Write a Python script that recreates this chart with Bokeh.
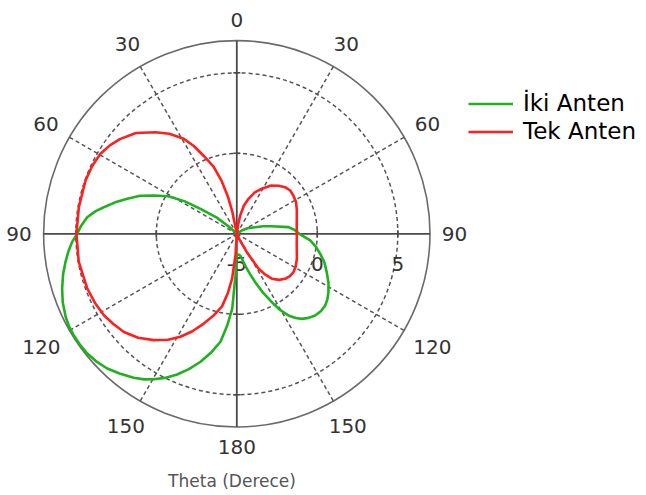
import numpy as np
from bokeh.plotting import figure
from bokeh.models import Range1d, Label, Legend, LegendItem
from bokeh.core.properties import value
from bokeh.embed import file_html
from bokeh.resources import INLINE

# ---------------- data ----------------
r_min, r_max = -5, 7
radial_ticks = [-5, 0, 5]
radial_labels = ["-5", "0", "5"]
angle_ticks = [0, 30, 60, 90, 120, 150, 180, 210, 240, 270, 300, 330]
angle_labels = ["0", "30", "60", "90", "120", "150", "180", "150", "120", "90", "60", "30"]

# Iki Anten (green): theta in degrees (clockwise from top, left side negative), gain in dB
iki_theta = [-180, -178.2, -176.5, -174, -171.4, -168, -164.2, -160.5, -157, -153.5,
             -150.3, -147.5, -144.4, -140, -136.1, -132.5, -128.7, -125, -121.9, -119,
             -116, -111.5, -107.4, -103, -99.3, -96, -92.8, -90, -87, -83.7,
             -81, -78.7, -75.5, -72.3, -68.5, -65.2, -61.2, -58, -55.5, -51,
             -47, -45, 0, 50, 56.6, 63, 70.3, 74, 77.7, 82.7,
             86, 90, 95.2, 99, 103.5, 108, 113.1, 118, 122.5, 126,
             129, 132.5, 136.2, 139.5, 142.6, 145, 147.7, 150.5, 152.9, 156,
             159.2, 162, 165.2, 168, 171, 175, 180]
iki_db = [-3.7, -2.43, -0.35, 0.75, 1.78, 2.5, 3.26, 3.92, 4.49, 5.0,
          5.40, 5.72, 6.00, 6.33, 6.61, 6.78, 6.90, 6.93, 6.93, 6.9,
          6.82, 6.62, 6.37, 6.07, 5.78, 5.52, 5.24, 4.91, 4.68, 4.35,
          3.9, 3.42, 2.8, 2.14, 1.45, 0.68, -0.15, -1.2, -2.3, -3.4,
          -4.4, -5, -5, -5, -4.6, -4.25, -3.79, -3.3, -2.78, -1.76,
          -1.42, -1.12, -0.42, -0.05, 0.33, 0.72, 1.07, 1.45, 1.75, 1.95,
          2.07, 2.1, 2.03, 1.87, 1.65, 1.38, 1.0, 0.42, -0.23, -1.0,
          -1.78, -2.4, -2.96, -3.35, -3.63, -3.7, -3.7]

# Tek Anten (red)
tek_theta = [-180, -176.5, -174, -171.5, -168.5, -164, -159.8, -155.5, -151.3, -147,
             -142, -136.5, -131, -126, -121.5, -116, -110, -100, -90, -80.4,
             -70.6, -65, -59.6, -55, -50.8, -45, -38.7, -34, -29.2, -26,
             -23, -19, -16, -13.5, -11.5, -9, 0, 6, 8.5, 10.5,
             14, 18.5, 23.5, 29, 35, 41, 46, 51, 56, 61.5,
             68, 76, 83, 90, 100, 107, 112.5, 119, 124, 128.5,
             133, 137.5, 142, 145, 148, 151.5, 155, 158, 180]
tek_db = [-5, -3.7, -2.2, -1.3, -0.4, 0.3, 0.94, 1.65, 2.29, 2.85,
          3.38, 3.9, 4.29, 4.5, 4.68, 4.8, 4.89, 4.97, 4.96, 4.95,
          4.96, 4.92, 4.82, 4.6, 4.33, 3.85, 3.08, 2.5, 1.76, 1.05,
          0.25, -0.6, -1.6, -2.6, -3.6, -5, -5, -5, -4.4, -3.84,
          -3.2, -2.71, -2.2, -1.80, -1.35, -1.04, -0.83, -0.73, -0.76, -0.82,
          -0.98, -1.16, -1.25, -1.27, -1.22, -1.1, -0.96, -0.82, -0.75, -0.78,
          -0.90, -1.12, -1.46, -1.9, -2.44, -3.7, -4.6, -5, -5]

# ---------------- layout ----------------
W, H = 646, 495
PX = 16.1              # pixels per dB
CX, CY = 236.3, 233.3  # centre on canvas
R = r_max - r_min

FONT = "DejaVu Sans"
GREEN = "#1fb11f"
RED = "#ff1f1f"
GRID = "#555555"

p = figure(width=W, height=H,
           x_range=Range1d(-CX / PX, (W - CX) / PX),
           y_range=Range1d(-(H - CY) / PX, CY / PX),
           x_axis_type=None, y_axis_type=None,
           output_backend="svg", toolbar_location=None, min_border=0)
p.outline_line_color = None
p.grid.visible = False


def polar(theta_deg, db):
    t = np.radians(np.asarray(theta_deg, dtype=float))
    r = np.clip(np.asarray(db, dtype=float) - r_min, 0, None)
    return r * np.sin(t), r * np.cos(t)


# grid: dashed circles at radial ticks (except centre), outer solid circle
for t in radial_ticks:
    rr = t - r_min
    if rr > 0:
        p.circle(x=0, y=0, radius=rr, fill_color=None, line_color=GRID,
                 line_width=1.5, line_dash="4 3")
p.circle(x=0, y=0, radius=R, fill_color=None, line_color="#6a6a6a", line_width=1.6)

# dashed spokes
spokes = [a for a in angle_ticks if a % 90 != 0]
sa = np.radians(spokes)
p.segment(x0=np.zeros(len(sa)), y0=np.zeros(len(sa)), x1=R * np.sin(sa), y1=R * np.cos(sa),
          line_color=GRID, line_width=1.5, line_dash="4 3")

# solid axes
p.segment(x0=[-R, 0], y0=[0, -R], x1=[R, 0], y1=[0, R], line_color="#4a4a4a", line_width=1.8)

# small ticks on axes
tk = np.array([t - r_min for t in radial_ticks if t - r_min > 0], dtype=float)
h = 0.22
one = np.ones_like(tk)
tx0 = np.concatenate([tk, -tk, -h * one, -h * one])
tx1 = np.concatenate([tk, -tk, h * one, h * one])
ty0 = np.concatenate([-h * one, -h * one, tk, -tk])
ty1 = np.concatenate([h * one, h * one, tk, -tk])
p.segment(x0=tx0, y0=ty0, x1=tx1, y1=ty1, line_color="#4a4a4a", line_width=1.6)

# radial labels
rl_x = [t - r_min for t in radial_ticks]
p.text(x=rl_x, y=[-1.86] * len(rl_x), text=radial_labels,
       text_font=value(FONT), text_font_size="20px", text_color="#333333",
       text_align="center", text_baseline="middle")

# curves
gx, gy = polar(iki_theta, iki_db)
tx, ty = polar(tek_theta, tek_db)
g_r = p.line(gx, gy, line_color=GREEN, line_width=2.6, line_join="round")
t_r = p.line(tx, ty, line_color=RED, line_width=2.6, line_join="round")

# angle labels
FS = 20
ang = np.radians(angle_ticks)
hw = np.array([len(s) for s in angle_labels]) * 0.318 * FS / PX
hh = 8.5 / PX
rlab = 205 / PX + hw * np.abs(np.sin(ang)) + hh * np.abs(np.cos(ang))
p.text(x=rlab * np.sin(ang), y=rlab * np.cos(ang), text=angle_labels,
       text_font=value(FONT), text_font_size=f"{FS}px", text_color="#333333",
       text_align="center", text_baseline="middle")

# axis title
p.add_layout(Label(x=231.5, y=H - 480.5, x_units="screen", y_units="screen",
                   text="Theta (Derece)", text_font=FONT, text_font_size="17px",
                   text_color="#555555", text_align="center", text_baseline="middle"))

# legend
legend = Legend(items=[LegendItem(label="İki Anten", renderers=[g_r]),
                       LegendItem(label="Tek Anten", renderers=[t_r])],
                location=(468, 351), orientation="vertical",
                label_text_font=FONT, label_text_font_size="23px", label_text_color="#000000",
                glyph_width=45, glyph_height=25, label_height=25, label_standoff=10,
                spacing=2, padding=0, margin=0,
                border_line_color=None, background_fill_alpha=0)
p.add_layout(legend)

open("out.html", "w").write(file_html(p, INLINE))
